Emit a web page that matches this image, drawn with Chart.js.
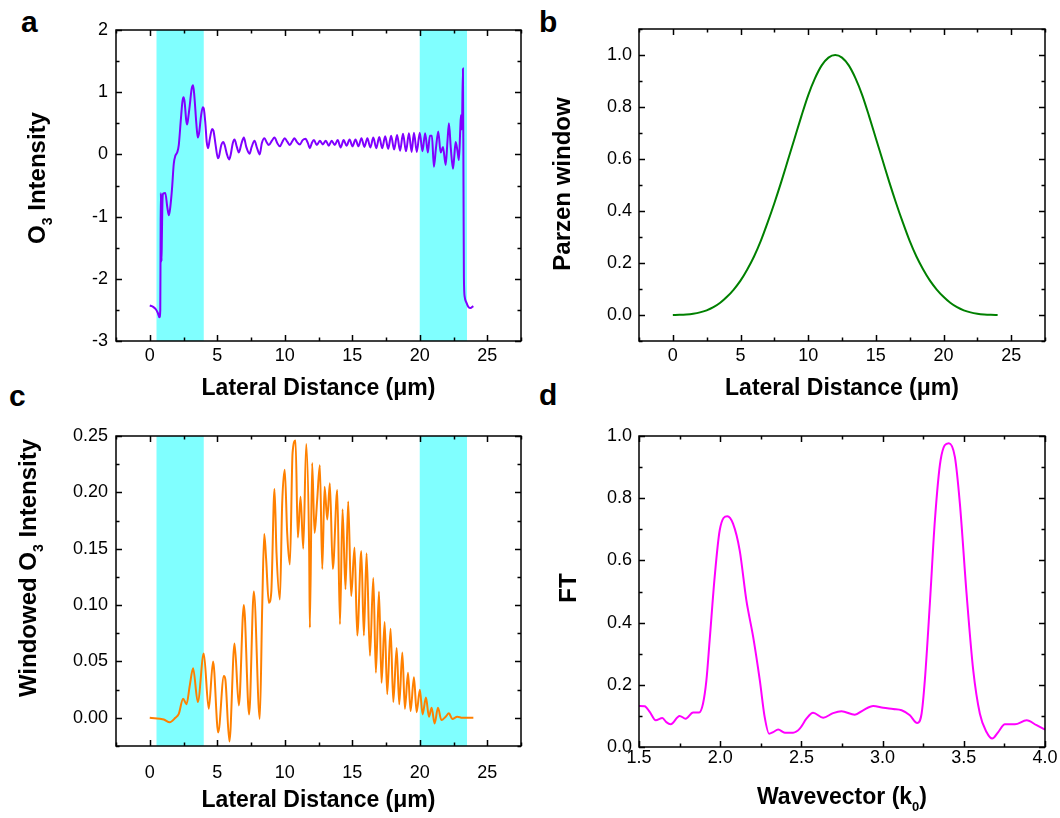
<!DOCTYPE html>
<html><head><meta charset="utf-8">
<script src="https://cdn.jsdelivr.net/npm/chart.js@4.4.0/dist/chart.umd.min.js"></script>
<style>
html,body{margin:0;padding:0;background:#fff;}
body{width:1060px;height:818px;position:relative;overflow:hidden;}
.panel{position:absolute;width:530px;height:409px;}
.letter{position:absolute;font:bold 30px "Liberation Sans",Arial,sans-serif;color:#000;line-height:30px;}
</style></head><body>
<div class="letter" style="left:21px;top:7px">a</div>
<div class="letter" style="left:539px;top:7px">b</div>
<div class="letter" style="left:9px;top:381px">c</div>
<div class="letter" style="left:539px;top:380px">d</div>
<div class="panel" style="left:0;top:0"><canvas id="ca" width="530" height="409"></canvas></div>
<div class="panel" style="left:530px;top:0"><canvas id="cb" width="530" height="409"></canvas></div>
<div class="panel" style="left:0;top:409px"><canvas id="cc" width="530" height="409"></canvas></div>
<div class="panel" style="left:530px;top:409px"><canvas id="cd" width="530" height="409"></canvas></div>
<script>
// ---------- data ----------
const bands = [[0.5, 4.0], [20.0, 23.5]];
const latTicks = [0, 5, 10, 15, 20, 25];

const aX = [0,0.15,0.30,0.45,0.60,0.72,0.78,0.80,0.82,0.85,0.87,0.90,0.95,1.00,1.15,1.30,1.42,1.52,1.65,1.78,1.90,2.03,2.15,2.30,2.42,2.50,2.58,2.70,2.77,2.87,2.97,3.10,3.21,3.30,3.45,3.56,3.66,3.80,3.93,4.00,4.12,4.22,4.32,4.45,4.62,4.72,4.88,5.05,5.12,5.30,5.45,5.55,5.72,5.88,6.00,6.15,6.28,6.45,6.60,6.80,6.97,7.15,7.39,7.55,7.76,7.95,8.15,8.30,8.50,8.65,8.82,9.05,9.24,9.45,9.64,9.82,10.0,10.2,10.38,10.55,10.72,10.9,11.12,11.33,11.54,11.7,11.86,12.0,12.16,12.38,12.60,12.82,13.04,13.26,13.48,13.70,13.92,14.14,14.36,14.58,14.80,15.02,15.24,15.46,15.68,15.90,16.12,16.34,16.56,16.78,17.00,17.22,17.44,17.66,17.88,18.10,18.32,18.54,18.76,18.98,19.20,19.40,19.57,19.78,20.00,20.20,20.40,20.60,20.75,20.90,21.05,21.20,21.37,21.55,21.72,21.92,22.05,22.16,22.30,22.46,22.55,22.66,22.80,22.90,23.00,23.05,23.12,23.20,23.24,23.27,23.33,23.45,23.60,23.77,23.90,23.97];
const aY = [-2.43,-2.44,-2.46,-2.49,-2.55,-2.62,-2.5,-1.5,-0.62,-1.0,-1.72,-1.3,-0.7,-0.63,-0.62,-0.85,-0.98,-0.85,-0.55,-0.15,-0.02,0.03,0.15,0.55,0.85,0.92,0.85,0.55,0.48,0.62,0.8,1.05,1.11,0.95,0.5,0.27,0.35,0.62,0.76,0.74,0.5,0.2,0.1,0.25,0.41,0.38,0.15,-0.06,-0.04,0.15,0.2,0.15,0.0,-0.08,0.0,0.18,0.24,0.12,0.03,0.18,0.27,0.12,0.01,0.12,0.22,0.1,0.0,0.18,0.26,0.2,0.15,0.22,0.27,0.18,0.13,0.2,0.26,0.2,0.15,0.21,0.26,0.2,0.16,0.23,0.25,0.19,0.1,0.18,0.23,0.15,0.22,0.16,0.22,0.14,0.22,0.15,0.23,0.11,0.23,0.14,0.24,0.13,0.24,0.13,0.26,0.12,0.26,0.11,0.27,0.10,0.28,0.10,0.29,0.09,0.30,0.08,0.31,0.06,0.33,0.05,0.34,0.04,0.35,0.04,0.35,0.05,0.34,0.03,0.30,0.30,-0.2,0.1,0.37,0.03,0.12,-0.17,0.2,0.5,0.1,-0.23,-0.05,0.2,0.05,-0.09,0.4,0.63,0.4,1.38,-0.5,-1.97,-2.29,-2.38,-2.45,-2.47,-2.45,-2.44];

const bX = [0,0.5,1,1.5,2,2.5,3,3.5,4,4.5,5,5.5,6,6.5,7,7.5,8,8.5,9,9.5,10,10.5,11,11.5,12,12.5,13,13.5,14,14.5,15,15.5,16,16.5,17,17.5,18,18.5,19,19.5,20,20.5,21,21.5,22,22.5,23,23.5,24];
const bY = [0,0.0005,0.002,0.005,0.01,0.018,0.03,0.047,0.07,0.098,0.132,0.175,0.225,0.285,0.355,0.43,0.51,0.595,0.68,0.765,0.845,0.91,0.96,0.99,1.0,0.99,0.96,0.91,0.845,0.765,0.68,0.595,0.51,0.43,0.355,0.285,0.225,0.175,0.132,0.098,0.07,0.047,0.03,0.018,0.01,0.005,0.002,0.0005,0];

const cX = [0,1.04,1.48,1.9,2.15,2.47,2.72,2.97,3.21,3.56,4.0,4.37,4.69,5.07,5.49,5.6,5.9,6.28,6.6,6.97,7.36,7.71,8.15,8.33,8.48,8.62,8.82,9.0,9.24,9.39,9.64,9.81,10.0,10.18,10.38,10.58,10.8,10.97,11.17,11.37,11.59,11.81,11.86,12.03,12.21,12.4,12.6,12.78,12.95,13.15,13.34,13.56,13.89,14.09,14.28,14.5,14.7,14.92,15.17,15.37,15.67,15.86,16.06,16.31,16.56,16.75,16.98,17.17,17.4,17.59,17.84,18.04,18.29,18.48,18.71,18.9,19.13,19.32,19.57,19.77,20.01,20.21,20.46,20.68,20.88,21.1,21.35,21.6,21.92,22.16,22.41,22.78,23.15,23.97];
const cY = [0,-0.0015,-0.004,0,0.0035,0.017,0.012,0.029,0.044,0.014,0.057,0.008,0.05,-0.013,0.037,0.034,-0.021,0.066,0.011,0.1,0.003,0.112,-0.001,0.098,0.163,0.141,0.102,0.111,0.203,0.146,0.105,0.19,0.22,0.164,0.136,0.235,0.246,0.16,0.196,0.15,0.243,0.146,0.08,0.226,0.164,0.193,0.224,0.132,0.205,0.176,0.208,0.132,0.202,0.083,0.185,0.114,0.192,0.108,0.151,0.073,0.148,0.073,0.146,0.055,0.124,0.04,0.112,0.031,0.085,0.021,0.079,0.014,0.062,0.012,0.058,0.008,0.04,0.006,0.036,0.005,0.025,0.003,0.018,0.001,0.009,-0.005,0.009,-0.002,0.001,0.004,-0.001,0.001,0,0];

const dX = [1.5,1.535,1.566,1.603,1.644,1.668,1.695,1.75,1.787,1.833,1.87,1.894,1.915,1.935,1.966,1.997,2.044,2.079,2.12,2.161,2.203,2.244,2.274,2.301,2.326,2.357,2.398,2.449,2.49,2.531,2.572,2.634,2.695,2.747,2.829,2.88,2.942,3.004,3.065,3.117,3.168,3.213,3.24,3.26,3.291,3.322,3.357,3.408,3.445,3.476,3.517,3.558,3.599,3.64,3.675,3.712,3.753,3.815,3.887,3.948,4.0];
const dY = [0.132,0.131,0.113,0.086,0.093,0.08,0.073,0.1,0.091,0.111,0.111,0.139,0.214,0.343,0.547,0.697,0.742,0.718,0.632,0.472,0.354,0.214,0.096,0.043,0.048,0.056,0.046,0.046,0.059,0.091,0.11,0.094,0.109,0.115,0.104,0.118,0.132,0.126,0.122,0.118,0.102,0.077,0.107,0.214,0.461,0.729,0.922,0.977,0.933,0.782,0.493,0.247,0.107,0.048,0.027,0.048,0.073,0.073,0.086,0.07,0.056];

const aYTicks = [-3, -2, -1, 0, 1, 2];
const bYTicks = [0, 0.2, 0.4, 0.6, 0.8, 1.0];
const cYTicks = [0, 0.05, 0.10, 0.15, 0.20, 0.25];
const dXTicks = [1.5, 2.0, 2.5, 3.0, 3.5, 4.0];
const dYTicks = [0, 0.2, 0.4, 0.6, 0.8, 1.0];

// ---------- rendering ----------
const FONT = '"Liberation Sans", Arial, sans-serif';

function drawRich(ctx, parts, size, cx, cy, rot) {
  ctx.save();
  ctx.translate(cx, cy);
  ctx.rotate(rot);
  const fontFor = p => 'bold ' + (p.sub ? Math.round(size * 0.58) : size) + 'px ' + FONT;
  let total = 0;
  const ws = parts.map(p => { ctx.font = fontFor(p); const w = ctx.measureText(p.t).width; total += w; return w; });
  let x = -total / 2;
  ctx.textBaseline = 'middle';
  ctx.textAlign = 'left';
  ctx.fillStyle = '#000';
  parts.forEach((p, i) => { ctx.font = fontFor(p); ctx.fillText(p.t, x, p.sub ? size * 0.42 : 0); x += ws[i]; });
  ctx.restore();
}

const framePlugin = {
  id: 'frame',
  beforeDatasetsDraw(chart, args, o) {
    const { ctx, chartArea: ca, scales: { x } } = chart;
    ctx.save();
    ctx.fillStyle = '#80ffff';
    (o.bands || []).forEach(([a, b]) => {
      const x1 = x.getPixelForValue(a), x2 = x.getPixelForValue(b);
      ctx.fillRect(x1, ca.top, x2 - x1, ca.bottom - ca.top);
    });
    ctx.restore();
  },
  afterDraw(chart, args, o) {
    const { ctx, chartArea: ca, scales: { x, y } } = chart;
    ctx.save();
    ctx.strokeStyle = '#000';
    ctx.lineWidth = 1.5;
    const ticks = (scale, majors, minor, horiz) => {
      const list = majors.map(v => [v, 6]);
      const n0 = Math.ceil(scale.min / minor - 1e-9), n1 = Math.floor(scale.max / minor + 1e-9);
      for (let n = n0; n <= n1; n++) {
        const v = n * minor;
        if (!majors.some(m => Math.abs(m - v) < 1e-9)) list.push([v, 3.5]);
      }
      ctx.beginPath();
      list.forEach(([v, len]) => {
        const p = Math.round(scale.getPixelForValue(v)) + 0.5;
        if (horiz) {
          ctx.moveTo(p, ca.bottom); ctx.lineTo(p, ca.bottom - len);
          ctx.moveTo(p, ca.top); ctx.lineTo(p, ca.top + len);
        } else {
          ctx.moveTo(ca.left, p); ctx.lineTo(ca.left + len, p);
          ctx.moveTo(ca.right, p); ctx.lineTo(ca.right - len, p);
        }
      });
      ctx.stroke();
    };
    ticks(x, x.ticks.map(t => t.value), o.xMinor, true);
    ticks(y, y.ticks.map(t => t.value), o.yMinor, false);
    ctx.strokeRect(ca.left, ca.top, ca.right - ca.left, ca.bottom - ca.top);
    ctx.restore();
    drawRich(ctx, o.xTitle, 23, (ca.left + ca.right) / 2 + (o.xTitleDx || 0), o.xTitleY, 0);
    drawRich(ctx, o.yTitle, 24, o.yTitleX, o.yTitleY, -Math.PI / 2);
  }
};

function makeChart(id, p) {
  return new Chart(document.getElementById(id), {
    type: 'line',
    data: { datasets: [{ data: p.xs.map((v, i) => ({ x: v, y: p.ys[i] })), borderColor: p.color, borderWidth: 2, pointRadius: 0, cubicInterpolationMode: 'monotone', fill: false }] },
    options: {
      responsive: false, animation: false, devicePixelRatio: 1,
      layout: { padding: { left: 0, top: p.padTop, right: p.padRight, bottom: 0 } },
      plugins: {
        legend: { display: false }, tooltip: { enabled: false },
        frame: { bands: p.bands, xMinor: p.xMinor, yMinor: p.yMinor,
          xTitle: p.xTitle, xTitleY: p.xTitleY, yTitle: p.yTitle, yTitleX: p.yTitleX, yTitleY: p.yTitleY }
      },
      scales: {
        x: {
          type: 'linear', min: p.xMin, max: p.xMax,
          afterBuildTicks: sc => { sc.ticks = p.xTicks.map(v => ({ value: v })); },
          afterFit: sc => { sc.height = p.xAxisH; },
          ticks: { autoSkip: false, maxRotation: 0, padding: p.xPad, color: '#000', font: { family: FONT, size: 18 }, callback: v => v.toFixed(p.xDec) },
          grid: { display: false, drawTicks: false }, border: { display: false }
        },
        y: {
          type: 'linear', min: p.yMin, max: p.yMax,
          afterBuildTicks: sc => { sc.ticks = p.yTicks.map(v => ({ value: v })); },
          afterFit: sc => { sc.width = p.yAxisW; },
          ticks: { autoSkip: false, padding: p.yPad, color: '#000', font: { family: FONT, size: 18 }, callback: v => v.toFixed(p.yDec) },
          grid: { display: false, drawTicks: false }, border: { display: false }
        }
      }
    },
    plugins: [framePlugin]
  });
}

const latTitle = [{ t: 'Lateral Distance (\u03bcm)' }];

makeChart('ca', { xs: aX, ys: aY, color: '#8000ff', bands: bands,
  xMin: -2.5, xMax: 27.5, xTicks: latTicks, xDec: 0, xMinor: 2.5,
  yMin: -3, yMax: 2, yTicks: aYTicks, yDec: 0, yMinor: 0.5,
  padTop: 30, padRight: 9, yAxisW: 116, xAxisH: 68, xPad: 4, yPad: 8,
  xTitle: latTitle, xTitleY: 389, yTitle: [{ t: 'O' }, { t: '3', sub: true }, { t: ' Intensity' }], yTitleX: 38, yTitleY: 178 });

makeChart('cb', { xs: bX, ys: bY, color: '#008000', bands: [],
  xMin: -2.5, xMax: 27.5, xTicks: latTicks, xDec: 0, xMinor: 2.5,
  yMin: -0.1, yMax: 1.1, yTicks: bYTicks, yDec: 1, yMinor: 0.1,
  padTop: 29, padRight: 15, yAxisW: 109, xAxisH: 68, xPad: 4, yPad: 7,
  xTitle: latTitle, xTitleY: 389, yTitle: [{ t: 'Parzen window' }], yTitleX: 33, yTitleY: 184 });

makeChart('cc', { xs: cX, ys: cY, color: '#ff8000', bands: bands,
  xMin: -2.5, xMax: 27.5, xTicks: latTicks, xDec: 0, xMinor: 2.5,
  yMin: -0.025, yMax: 0.25, yTicks: cYTicks, yDec: 2, yMinor: 0.025,
  padTop: 27, padRight: 9, yAxisW: 116, xAxisH: 72, xPad: 16, yPad: 8,
  xTitle: latTitle, xTitleY: 392, yTitle: [{ t: 'Windowed O' }, { t: '3', sub: true }, { t: ' Intensity' }], yTitleX: 29, yTitleY: 159 });

makeChart('cd', { xs: dX, ys: dY, color: '#ff00ff', bands: [],
  xMin: 1.5, xMax: 4.0, xTicks: dXTicks, xDec: 1, xMinor: 0.25,
  yMin: 0, yMax: 1.0, yTicks: dYTicks, yDec: 1, yMinor: 0.1,
  padTop: 27, padRight: 15, yAxisW: 109, xAxisH: 71, xPad: 0, yPad: 7,
  xTitle: [{ t: 'Wavevector (k' }, { t: '0', sub: true }, { t: ')' }], xTitleY: 389, yTitle: [{ t: 'FT' }], yTitleX: 39, yTitleY: 179 });
</script>
</body></html>
